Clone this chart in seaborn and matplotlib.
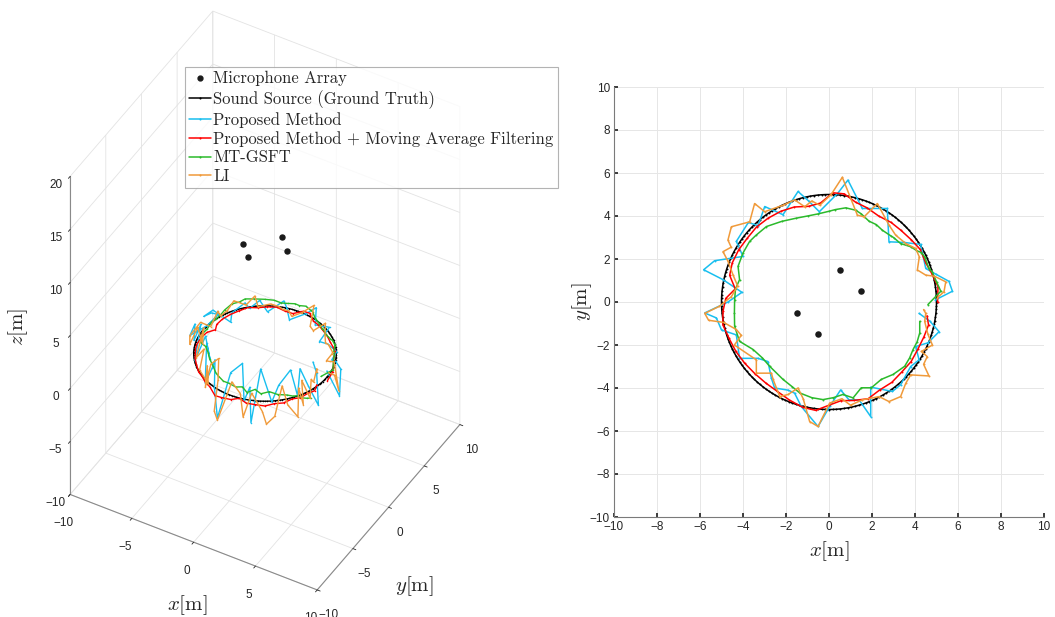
import numpy as np
import pandas as pd
import matplotlib
matplotlib.use("Agg")
import matplotlib.pyplot as plt
from matplotlib.lines import Line2D
from mpl_toolkits.mplot3d import proj3d
import seaborn as sns

sns.set_theme(style="white")
plt.rcParams["font.family"] = ["Liberation Sans", "DejaVu Sans"]
plt.rcParams["mathtext.fontset"] = "cm"

# ------------------------------------------------------------------ data
mic_x = [0.5, 1.5, -1.5, -0.5]
mic_y = [1.5, 0.5, -0.5, -1.5]
mic_z = [10.0, 10.0, 10.0, 10.0]

gt_radius = 5.0
gt_height = 0.0
gt_angles_deg = np.arange(0, 361, 2)

prop_x = [4.95, 5.74, 5.58, 4.96, 4.50, 4.26, 3.49, 2.79, 2.71, 1.55,
          0.88, 0.40, -0.45, -0.95, -1.44, -2.14, -2.99, -3.30, -3.75, -4.31,
          -4.00, -5.32, -5.83, -4.93, -4.05, -4.70, -5.78, -5.24, -5.00, -4.31,
          -4.16, -3.30, -2.84, -2.68, -2.53, -1.90, -1.60, -1.29, -0.51, 0.03,
          0.54, 0.93, 1.40, 1.94, 1.94, 2.95, 3.33, 3.80, 4.19, 4.03,
          4.60, 5.12, 4.70, 4.19]
prop_y = [0.10, 0.50, 0.96, 1.30, 1.56, 2.68, 2.77, 2.80, 4.35, 4.35,
          5.67, 5.05, 4.20, 4.70, 5.14, 4.06, 4.44, 3.55, 3.70, 2.82,
          2.12, 1.92, 1.50, 1.04, 0.45, 0.00, -0.51, -0.74, -1.30, -1.53,
          -2.62, -2.62, -2.77, -3.54, -4.00, -4.10, -4.24, -4.86, -5.79, -4.86,
          -4.09, -4.55, -4.55, -5.33, -3.96, -4.16, -3.85, -3.00, -2.69, -2.07,
          -1.90, -1.38, -0.90, -0.53]
prop_z = [0.5, -1.8, 0.3, 0.5, 0.2, 0.0, 0.3, 0.2, 0.3, 0.0,
          0.3, 0.0, -0.3, 0.2, 0.3, -0.2, 0.2, 0.0, 0.2, -0.3,
          -0.5, 0.2, -0.3, 0.8, 1.5, 0.5, -0.5, 1.0, 0.0, 2.0,
          -0.5, 2.2, 0.3, 2.5, -0.8, 1.0, 2.0, 0.0, -1.8, 2.0,
          2.5, -0.5, 1.0, -1.5, 2.5, 0.0, 1.5, 2.5, 0.0, 2.0,
          0.5, -1.5, 1.0, 1.5]

ma_x = [5.05, 5.07, 4.80, 4.50, 4.24, 3.83, 3.34, 2.89, 2.31, 1.77,
        1.24, 0.71, 0.18, -0.40, -0.95, -1.61, -2.24, -2.83, -3.37, -3.80,
        -4.20, -4.50, -4.62, -4.36, -4.80, -4.93, -4.94, -4.65, -4.33, -3.92,
        -3.45, -2.94, -2.40, -1.84, -1.22, -0.62, 0.00, 0.56, 1.14, 1.82,
        2.36, 2.92, 3.38, 3.82, 4.13, 4.42, 4.63, 4.56]
ma_y = [0.00, 0.71, 1.29, 1.82, 2.45, 2.89, 3.34, 3.70, 4.00, 4.38,
        4.64, 5.03, 5.08, 4.60, 4.45, 4.42, 4.22, 3.90, 3.49, 2.97,
        2.43, 1.82, 1.24, 0.61, 0.17, -0.43, -1.05, -1.69, -2.30, -2.85,
        -3.33, -3.77, -4.16, -4.56, -4.90, -5.04, -4.80, -4.59, -4.58, -4.50,
        -4.09, -3.74, -3.26, -2.77, -2.20, -1.61, -1.07, -0.64]
ma_z = [-0.3, 0.0, 0.1, 0.0, 0.2, 0.1, 0.0, 0.1, 0.2, 0.1,
        0.0, 0.2, 0.1, 0.0, 0.1, 0.2, 0.1, 0.0, 0.1, 0.0,
        -0.1, -0.2, -0.3, -0.2, -0.3, -0.4, -0.6, -0.4, -0.6, -0.5,
        -0.7, -0.5, -0.6, -0.4, -0.7, -0.5, -0.6, -0.4, -0.6, -0.5,
        -0.7, -0.5, -0.6, -0.4, -0.6, -0.5, -0.6, -0.4]

mt_x = [4.60, 5.20, 5.00, 4.80, 4.65, 4.45, 4.30, 4.11, 3.80, 3.33,
        3.00, 2.87, 2.48, 2.20, 1.86, 1.50, 1.24, 0.78, 0.30, 0.00,
        -0.50, -1.00, -1.52, -2.20, -2.91, -3.40, -3.69, -4.00, -4.23, -4.16,
        -4.35, -4.39, -4.40, -4.39, -4.16, -3.53, -3.10, -2.76, -2.14, -1.70,
        -1.36, -0.80, -0.28, 0.20, 0.65, 1.12, 1.50, 1.97, 2.43, 2.98,
        3.52, 3.75, 3.91, 4.10, 4.22, 4.22]
mt_y = [-0.12, 0.50, 0.94, 1.40, 1.56, 2.10, 2.30, 2.37, 2.57, 2.72,
        3.00, 3.08, 3.34, 3.60, 3.76, 4.10, 4.27, 4.38, 4.30, 4.22,
        4.10, 4.00, 3.90, 3.75, 3.51, 3.10, 2.82, 2.28, 1.66, 1.04,
        0.60, 0.10, -0.50, -1.13, -1.83, -2.21, -2.60, -2.99, -3.60, -3.95,
        -4.23, -4.45, -4.54, -4.45, -4.30, -4.46, -3.99, -3.99, -3.60, -3.37,
        -2.99, -2.60, -2.21, -1.85, -1.44, -0.90]
mt_z = [0.0, 0.4, 0.8, 0.9, 1.0, 1.1, 1.0, 1.2, 1.1, 1.2,
        1.3, 1.2, 1.3, 1.2, 1.3, 1.4, 1.3, 1.4, 1.3, 1.4,
        1.3, 1.2, 1.3, 1.2, 1.1, 1.2, 1.0, 1.1, 0.9, 1.0,
        0.8, 0.9, 0.7, 0.8, 0.6, 0.8, 0.7, 0.6, 0.7, 0.5,
        0.6, 0.5, 0.6, 0.4, 0.5, 0.3, 0.4, 0.2, 0.3, 0.1,
        0.0, -0.3, -0.5, -0.9, -1.2, -1.6]

li_x = [5.04, 5.35, 5.43, 4.90, 4.50, 4.11, 4.20, 4.03, 3.57, 3.10,
        2.79, 2.25, 1.63, 1.32, 0.62, 0.10, -0.43, -0.80, -1.13, -1.60,
        -2.14, -2.99, -3.46, -3.69, -4.54, -4.70, -4.55, -4.93, -4.70, -4.46,
        -4.25, -4.54, -5.10, -5.78, -5.60, -4.90, -4.31, -4.08, -4.40, -3.38,
        -3.38, -2.68, -2.60, -2.29, -1.90, -1.44, -1.20, -0.90, -0.51, 0.03,
        0.60, 1.00, 1.55, 2.33, 2.79, 3.33, 3.57, 3.80, 4.65, 4.40,
        4.57, 4.30, 4.81, 4.60, 4.45, 4.50, 4.40]
li_y = [0.20, 0.48, 0.94, 1.20, 1.25, 1.49, 2.10, 2.49, 2.72, 3.11,
        3.58, 4.58, 3.96, 4.04, 5.80, 5.00, 4.50, 4.70, 4.43, 4.75,
        4.50, 4.20, 4.58, 3.73, 3.50, 2.88, 2.55, 2.34, 1.90, 1.25,
        0.75, 0.25, -0.20, -0.53, -0.85, -0.95, -1.28, -1.55, -2.00, -2.69,
        -3.31, -3.31, -3.60, -4.40, -4.30, -4.00, -4.50, -5.56, -5.79, -4.70,
        -4.50, -4.80, -4.55, -4.40, -4.63, -4.40, -3.78, -3.39, -3.44, -2.90,
        -2.54, -2.30, -2.00, -1.50, -0.90, -0.53, -0.35]
li_z = [0.3, 0.0, -1.8, 0.5, 0.3, 0.0, 0.2, 0.0, 0.3, 0.0,
        0.2, 0.3, -0.2, 0.0, 0.3, 0.0, -0.2, 0.0, 0.2, 0.0,
        0.2, -0.2, 0.3, 0.0, 0.2, -0.3, 0.0, -0.5, 0.0, 0.8,
        1.5, 0.3, 0.8, -0.5, -1.0, 1.0, 0.0, 1.8, -0.8, 1.0,
        -0.5, -1.5, 0.5, -0.8, 1.5, 2.0, 0.5, -1.5, -2.0, 1.0,
        0.0, -1.8, 0.5, -1.0, -1.8, -1.0, 1.5, -0.5, -1.2, 1.0,
        -0.8, 1.2, -0.5, 0.8, 0.0, 1.0, 0.5]

labels = ["Microphone Array", "Sound Source (Ground Truth)", "Proposed Method",
          "Proposed Method + Moving Average Filtering", "MT-GSFT", "LI"]
colors = {"gt": "#000000", "prop": "#19BFEF", "ma": "#FF0000",
          "mt": "#2BBA2B", "li": "#F09A3A"}

gt_t = np.deg2rad(gt_angles_deg)
gt_x = gt_radius * np.cos(gt_t)
gt_y = gt_radius * np.sin(gt_t)
gt_z = np.full_like(gt_x, gt_height)

series = [
    ("gt", gt_x, gt_y, gt_z),
    ("prop", prop_x, prop_y, prop_z),
    ("ma", ma_x, ma_y, ma_z),
    ("mt", mt_x, mt_y, mt_z),
    ("li", li_x, li_y, li_z),
]

# ------------------------------------------------------------------ figure
W, H = 1055, 617
fig = plt.figure(figsize=(W / 100, H / 100), dpi=100)

# ---------------- 3D axes
ax3 = fig.add_axes([0.0, 0.0, 0.55, 0.55 * W / H], projection="3d")
ax3.set_proj_type("ortho")
ax3.view_init(elev=42, azim=-60)
ax3.patch.set_alpha(0)
try:
    ax3.set_xlim(-10, 10, view_margin=0)
    ax3.set_ylim(-10, 10, view_margin=0)
    ax3.set_zlim(-10, 20, view_margin=0)
except TypeError:
    ax3.set_xlim(-10, 10)
    ax3.set_ylim(-10, 10)
    ax3.set_zlim(-10, 20)
ax3.set_box_aspect((1, 1, 1.5))
ax3.set_xticks([-10, -5, 0, 5, 10])
ax3.set_yticks([-10, -5, 0, 5, 10])
ax3.set_zticks([-10, -5, 0, 5, 10, 15, 20])
try:
    ax3.zaxis.set_ticks_position("lower")
    ax3.zaxis.set_label_position("lower")
except Exception:
    pass
ax3.grid(True)
for axis in (ax3.xaxis, ax3.yaxis, ax3.zaxis):
    axis.set_pane_color((1, 1, 1, 0))
    axis.pane.set_edgecolor((1, 1, 1, 0))
    axis._axinfo["grid"].update({"color": (0.89, 0.89, 0.89, 1.0), "linewidth": 0.6})
    axis.line.set_color("#8a8a8a")
    axis.line.set_linewidth(0.8)
    axis._axinfo["tick"].update({"color": "#8a8a8a", "inward_factor": 0.15,
                                 "outward_factor": 0.0, "linewidth": {True: 0.6, False: 0.5}})
ax3.tick_params(axis="both", labelsize=8.5, colors="#262626", pad=2)
ax3.tick_params(axis="z", labelsize=8.5, colors="#262626", pad=0)

ax3.plot(mic_x, mic_y, mic_z, linestyle="none", marker="o", ms=3.6, color="k")
for key, xs, ys, zs in series:
    ax3.plot(xs, ys, zs, color=colors[key], lw=1.0, marker=".", ms=2.2,
             mec=colors[key], mew=0)

# ---------------- 2D axes
ax2 = fig.add_axes([614 / W, 1 - 517 / H, 430 / W, 430 / H])
sns.scatterplot(x=mic_x, y=mic_y, color="k", s=22, linewidth=0, ax=ax2, zorder=5)
for key, xs, ys, zs in series:
    sns.lineplot(x=np.asarray(xs), y=np.asarray(ys), sort=False, estimator=None,
                 errorbar=None, ax=ax2, color=colors[key], linewidth=1.1,
                 marker=".", markersize=2.8, markeredgecolor=colors[key],
                 markeredgewidth=0, legend=False)
ax2.set_xlim(-10, 10)
ax2.set_ylim(-10, 10)
ax2.set_xticks(range(-10, 11, 2))
ax2.set_yticks(range(-10, 11, 2))
ax2.grid(True, color="#e6e6e6", linewidth=0.7)
ax2.set_axisbelow(True)
for s in ("top", "right"):
    ax2.spines[s].set_visible(False)
for s in ("left", "bottom"):
    ax2.spines[s].set_color("#7a7a7a")
    ax2.spines[s].set_linewidth(0.8)
ax2.tick_params(labelsize=8.5, colors="#262626", direction="in", length=3,
                left=True, bottom=True, pad=3)
ax2.set_xlabel(r"$x[\mathrm{m}]$", fontsize=15, labelpad=4.5)
ax2.set_ylabel(r"$y[\mathrm{m}]$", fontsize=15, labelpad=-3)

# ---------------- 3D axis labels
fig.text(187 / W, 1 - 605 / H, r"$x[\mathrm{m}]$", ha="center", va="center", fontsize=15)
fig.text(414 / W, 1 - 586 / H, r"$y[\mathrm{m}]$", ha="center", va="center", fontsize=15)
fig.text(18 / W, 1 - 327 / H, r"$z[\mathrm{m}]$", ha="center", va="center",
         fontsize=15, rotation=90)

# ---------------- legend
handles = [Line2D([], [], linestyle="none", marker=".", ms=7, color="k")]
for key in ("gt", "prop", "ma", "mt", "li"):
    handles.append(Line2D([], [], color=colors[key], lw=1.1, marker=".", ms=3,
                          mew=0))
leg = fig.legend(handles, labels, loc="upper left",
                 bbox_to_anchor=(185 / W, 1 - 67 / H), borderaxespad=0,
                 frameon=True, fancybox=False, edgecolor="#a0a0a0",
                 prop={"family": "cmr10", "size": 12}, handlelength=1.3,
                 handletextpad=0.15, labelspacing=0.2, borderpad=0.25)
leg.get_frame().set_linewidth(0.8)

# ---------------- place the 3D box where the reference has it
fig.canvas.draw()


def corner(x, y, z):
    xs, ys, _ = proj3d.proj_transform(x, y, z, ax3.get_proj())
    return np.array(ax3.transData.transform((xs, ys)))


cur = np.array([corner(-10, -10, -10), corner(10, 10, -10),
                corner(-10, 10, 20), corner(10, -10, -10)])
tgt = np.array([[69, H - 492], [460, H - 425], [213, H - 13], [318, H - 590]], float)
k = 0.5 * ((tgt[1, 0] - tgt[0, 0]) / (cur[1, 0] - cur[0, 0])
           + (tgt[2, 1] - tgt[3, 1]) / (cur[2, 1] - cur[3, 1]))
bb = ax3.get_position()
c = np.array([(bb.x0 + bb.x1) / 2 * W, (bb.y0 + bb.y1) / 2 * H])
new_c = tgt.mean(axis=0) - k * (cur.mean(axis=0) - c)
side = k * bb.width * W
ax3.set_position([(new_c[0] - side / 2) / W, (new_c[1] - side / 2) / H,
                  side / W, side / H])

fig.savefig("out.png", dpi=100)
